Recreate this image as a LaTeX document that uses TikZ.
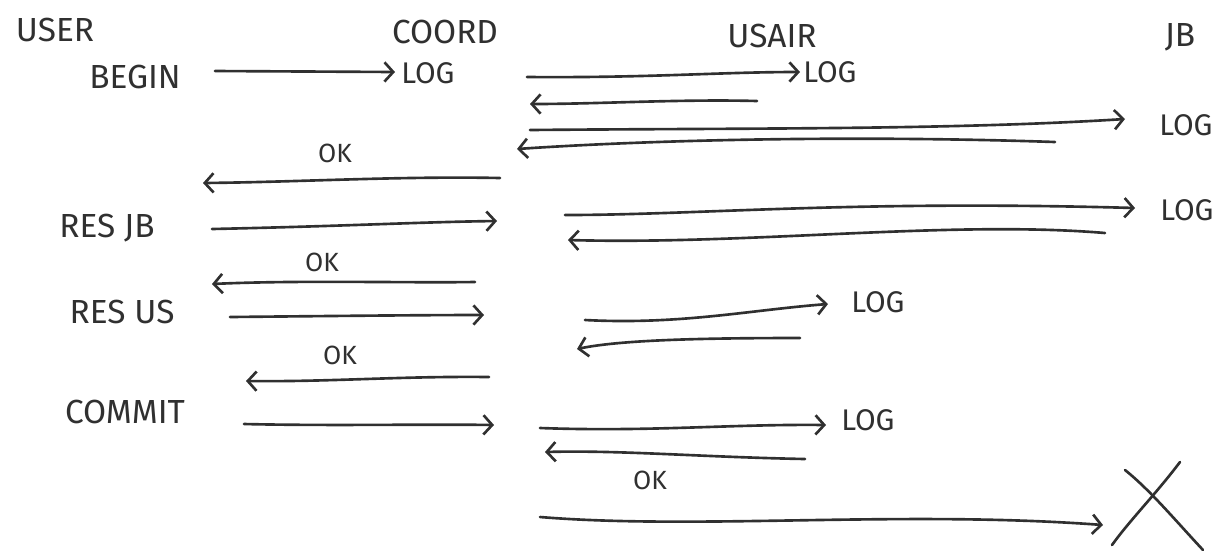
\documentclass[tikz,border=0pt]{standalone}
\usepackage{fontspec}
\setmainfont{Fira Sans}
\usetikzlibrary{arrows.meta}
\definecolor{ink}{HTML}{303030}
\tikzset{
  lbl/.style={text=ink, font=\fontsize{19}{22}\selectfont, inner sep=0pt},
  logl/.style={text=ink, font=\fontsize{17}{20}\selectfont, inner sep=0pt},
  okl/.style={text=ink, font=\fontsize{15}{18}\selectfont, inner sep=0pt},
  msg/.style={draw=ink, line width=1.5pt, line cap=round, -{Straight Barb[length=5pt,width=11pt,line width=1.5pt]}},
  crashline/.style={draw=ink, line width=1.5pt, line cap=round},
}
\begin{document}
\begin{tikzpicture}[x=0.02cm,y=-0.02cm]
\useasboundingbox (0,0) rectangle (1227,556);
% headers
\node[lbl] (user)  at (55,30)  {USER};
\node[lbl] (coord) at (445,32) {COORD};
\node[lbl] (usair) at (772,36) {USAIR};
\node[lbl] (jb)    at (1180,37) {JB};
% left-side labels
\node[lbl] (begin)  at (135,77)  {BEGIN};
\node[lbl] (resjb)  at (107,228) {RES JB};
\node[lbl] (resus)  at (122,312) {RES US};
\node[lbl] (commit) at (125,412) {COMMIT};
% log labels
\node[logl] (log1) at (428,73)   {LOG};
\node[logl] (log2) at (830,72)   {LOG};
\node[logl] (log3) at (1186,125) {LOG};
\node[logl] (log4) at (1187,210) {LOG};
\node[logl] (log5) at (878,302)  {LOG};
\node[logl] (log6) at (868,420)  {LOG};
% ok labels
\node[okl] (ok1) at (335,153) {OK};
\node[okl] (ok2) at (322,262) {OK};
\node[okl] (ok3) at (340,355) {OK};
\node[okl] (ok4) at (650,480) {OK};
% crash mark
\coordinate (xa) at (1125,470);
\coordinate (xb) at (1203,550);
\coordinate (xc) at (1180,462);
\coordinate (xd) at (1112,545);
\draw[crashline] (xa) .. controls (1150,490) and (1175,520) .. (xb);
\draw[crashline] (xc) .. controls (1155,495) and (1130,520) .. (xd);
% endpoints
\coordinate (a1) at (215,71);   \coordinate (b1) at (395,72);
\coordinate (a2) at (527,77);   \coordinate (b2) at (800,72);
\coordinate (a3) at (757,101);  \coordinate (b3) at (530,104);
\coordinate (a4) at (530,130);  \coordinate (b4) at (1125,119);
\coordinate (a5) at (1055,142); \coordinate (b5) at (517,149);
\coordinate (a6) at (500,178);  \coordinate (b6) at (203,183);
\coordinate (a7) at (212,229);  \coordinate (b7) at (497,221);
\coordinate (a8) at (565,215);  \coordinate (b8) at (1135,208);
\coordinate (a9) at (1105,233); \coordinate (b9) at (568,240);
\coordinate (a10) at (475,282); \coordinate (b10) at (212,284);
\coordinate (a11) at (230,317); \coordinate (b11) at (484,315);
\coordinate (a12) at (585,320); \coordinate (b12) at (828,304);
\coordinate (a13) at (800,338); \coordinate (b13) at (577,349);
\coordinate (a14) at (489,377); \coordinate (b14) at (246,381);
\coordinate (a15) at (244,424); \coordinate (b15) at (494,425);
\coordinate (a16) at (540,428); \coordinate (b16) at (826,425);
\coordinate (a17) at (805,459); \coordinate (b17) at (545,452);
\coordinate (a18) at (540,517); \coordinate (b18) at (1103,525);
% messages
\draw[msg] (a1) -- (b1);
\draw[msg] (a2) .. controls (650,78) and (720,72) .. (b2);
\draw[msg] (a3) .. controls (680,99) and (600,104) .. (b3);
\draw[msg] (a4) .. controls (750,128) and (950,130) .. (b4);
\draw[msg] (a5) .. controls (850,135) and (650,140) .. (b5);
\draw[msg] (a6) .. controls (400,176) and (300,182) .. (b6);
\draw[msg] (a7) .. controls (350,226) and (420,222) .. (b7);
\draw[msg] (a8) .. controls (700,215) and (850,200) .. (b8);
\draw[msg] (a9) .. controls (950,220) and (750,245) .. (b9);
\draw[msg] (a10) .. controls (400,283) and (300,280) .. (b10);
\draw[msg] (a11) .. controls (330,316) and (420,315) .. (b11);
\draw[msg] (a12) .. controls (680,325) and (750,310) .. (b12);
\draw[msg] (a13) .. controls (700,338) and (620,340) .. (b13);
\draw[msg] (a14) .. controls (400,376) and (330,382) .. (b14);
\draw[msg] (a15) .. controls (330,426) and (420,424) .. (b15);
\draw[msg] (a16) .. controls (650,432) and (730,424) .. (b16);
\draw[msg] (a17) .. controls (700,457) and (620,450) .. (b17);
\draw[msg] (a18) .. controls (700,530) and (900,510) .. (b18);
\end{tikzpicture}
\end{document}
